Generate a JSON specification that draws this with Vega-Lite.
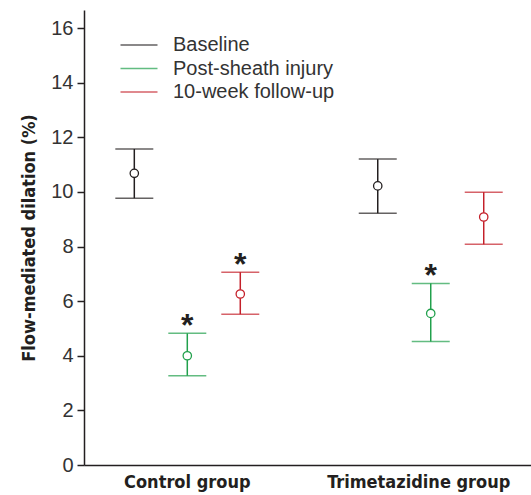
{
  "$schema": "https://vega.github.io/schema/vega-lite/v6.json",
  "width": 447,
  "height": 455,
  "autosize": {"type": "none"},
  "padding": {"left": 84, "top": 10, "right": 0, "bottom": 30},
  "background": "white",
  "config": {"view": {"stroke": null}, "axis": {"grid": false}},
  "data": {
    "values": [
      {"group": "Control group", "series": "Baseline", "mean": 10.68, "lower": 9.77, "upper": 11.57, "sig": ""},
      {"group": "Control group", "series": "Post-sheath injury", "mean": 4.0, "lower": 3.27, "upper": 4.82, "sig": "*"},
      {"group": "Control group", "series": "10-week follow-up", "mean": 6.26, "lower": 5.52, "upper": 7.06, "sig": "*"},
      {"group": "Trimetazidine group", "series": "Baseline", "mean": 10.22, "lower": 9.22, "upper": 11.2, "sig": ""},
      {"group": "Trimetazidine group", "series": "Post-sheath injury", "mean": 5.55, "lower": 4.52, "upper": 6.65, "sig": "*"},
      {"group": "Trimetazidine group", "series": "10-week follow-up", "mean": 9.08, "lower": 8.08, "upper": 9.99, "sig": ""}
    ]
  },
  "encoding": {
    "x": {
      "field": "group",
      "type": "nominal",
      "sort": ["Control group", "Trimetazidine group"],
      "scale": {"paddingInner": 0.347, "paddingOuter": 0.0916, "align": 0.534},
      "axis": {
        "title": null,
        "ticks": false,
        "labelAngle": 0,
        "domainColor": "#231f20",
        "domainWidth": 1.5,
        "labelFont": "'DejaVu Sans Condensed', 'Liberation Sans'",
        "labelFontWeight": "bold",
        "labelFontSize": 18,
        "labelColor": "#231f20",
        "labelPadding": 8,
        "labelLimit": 300,
        "labelOffset": {"condition": {"test": "datum.value === 'Trimetazidine group'", "value": -12}, "value": 0}
      }
    },
    "xOffset": {
      "field": "series",
      "type": "nominal",
      "sort": ["Baseline", "Post-sheath injury", "10-week follow-up"],
      "scale": {"paddingInner": 0, "paddingOuter": 0}
    }
  },
  "layer": [
    {
      "mark": {"type": "rule", "strokeWidth": 1.5},
      "encoding": {
        "y": {
          "field": "lower",
          "type": "quantitative",
          "scale": {"domain": [0, 16.66], "nice": false},
          "axis": {
            "values": [0, 2, 4, 6, 8, 10, 12, 14, 16],
            "tickSize": 7,
            "tickWidth": 1.5,
            "tickColor": "#231f20",
            "domainColor": "#231f20",
            "domainWidth": 1.5,
            "labelFont": "Liberation Sans",
            "labelFontSize": 20,
            "labelColor": "#333333",
            "labelPadding": 4,
            "title": "Flow-mediated dilation (%)",
            "titleFont": "'DejaVu Sans Condensed', 'Liberation Sans'",
            "titleFontWeight": "bold",
            "titleFontSize": 18,
            "titleColor": "#231f20",
            "titlePadding": 12,
            "titleLimit": 400
          }
        },
        "y2": {"field": "upper"},
        "color": {
          "field": "series",
          "type": "nominal",
          "sort": ["Baseline", "Post-sheath injury", "10-week follow-up"],
          "scale": {"domain": ["Baseline", "Post-sheath injury", "10-week follow-up"], "range": ["#231f20", "#21a04c", "#c4202a"]},
          "legend": {
            "orient": "none",
            "legendX": 45,
            "legendY": 25,
            "title": null,
            "symbolType": "M-2,0H2",
            "symbolSize": 342,
            "symbolStrokeWidth": 1.5,
            "labelFont": "Liberation Sans",
            "labelFontSize": 20,
            "labelColor": "#333333",
            "labelOffset": 24,
            "labelLimit": 400,
            "rowPadding": 3.5,
            "padding": 0
          }
        }
      }
    },
    {
      "mark": {"type": "tick", "thickness": 1.5, "size": 38},
      "encoding": {
        "y": {"field": "lower", "type": "quantitative"},
        "color": {"field": "series", "type": "nominal"}
      }
    },
    {
      "mark": {"type": "tick", "thickness": 1.5, "size": 38},
      "encoding": {
        "y": {"field": "upper", "type": "quantitative"},
        "color": {"field": "series", "type": "nominal"}
      }
    },
    {
      "mark": {"type": "point", "filled": false, "fill": "white", "size": 70, "strokeWidth": 1.3, "opacity": 1},
      "encoding": {
        "y": {"field": "mean", "type": "quantitative"},
        "color": {"field": "series", "type": "nominal"}
      }
    },
    {
      "mark": {"type": "text", "font": "Liberation Sans", "fontWeight": "bold", "fontSize": 32, "color": "#231f20", "baseline": "alphabetic", "dy": 3},
      "encoding": {
        "y": {"field": "upper", "type": "quantitative"},
        "text": {"field": "sig"}
      }
    }
  ]
}
